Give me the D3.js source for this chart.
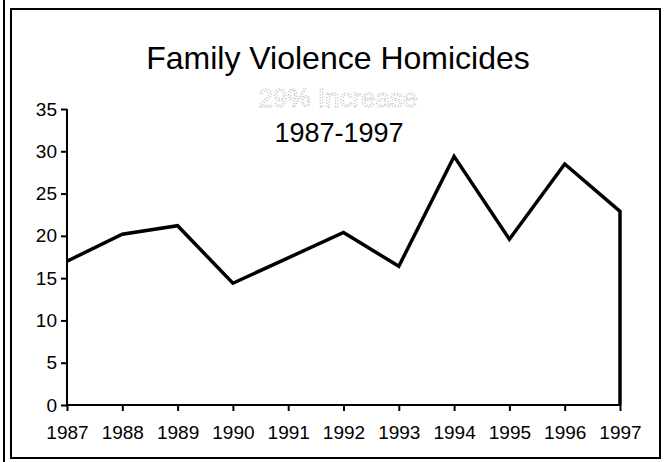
<html>
<head>
  <script src="https://d3js.org/d3.v7.min.js"></script>
  <style>
    body { margin: 0; background: white; }
    text { font-family: "Liberation Sans", Arial, sans-serif; }
  </style>
</head>
<body>
  <svg id="chart" width="667" height="462"></svg>
  <script>
    // data
    const years = [1987, 1988, 1989, 1990, 1991, 1992, 1993, 1994, 1995, 1996, 1997];
    const homicides = [17.0, 20.2, 21.2, 14.4, 17.4, 20.4, 16.4, 29.4, 19.6, 28.5, 22.9];
    const yTicks = [0, 5, 10, 15, 20, 25, 30, 35];
    const titleLines = ["Family Violence Homicides", "29% Increase", "1987-1997"];

    const svg = d3.select("svg#chart");
    const margin = { top: 109, right: 47, bottom: 57, left: 67 };
    const width = +svg.attr("width");
    const height = +svg.attr("height");
    const chartWidth = width - margin.left - margin.right;
    const chartHeight = height - margin.top - margin.bottom;

    // frame: outer left rule plus the boxed panel
    svg.append("line")
      .attr("x1", 4).attr("x2", 4).attr("y1", 0).attr("y2", height)
      .attr("stroke", "black").attr("stroke-width", 2);
    svg.append("rect")
      .attr("x", 11).attr("y", 9).attr("width", 649).attr("height", 449)
      .attr("fill", "none").attr("stroke", "black").attr("stroke-width", 2);

    // titles
    svg.append("text").attr("x", 338).attr("y", 69)
      .attr("text-anchor", "middle").style("font-size", "32px")
      .text(titleLines[0]);
    svg.append("text").attr("x", 338).attr("y", 107)
      .attr("text-anchor", "middle").style("font-size", "26px")
      .attr("fill", "white").attr("stroke", "#a8a8a8").attr("stroke-width", 0.8)
      .attr("stroke-dasharray", "1.2,1.6")
      .text(titleLines[1]);
    svg.append("text").attr("x", 339).attr("y", 142)
      .attr("text-anchor", "middle").style("font-size", "27px")
      .text(titleLines[2]);

    const chartArea = svg.append("g")
      .attr("transform", `translate(${margin.left},${margin.top})`);

    const xScale = d3.scaleLinear().domain(d3.extent(years)).range([0, chartWidth]);
    const yScale = d3.scaleLinear().domain([0, 35]).range([chartHeight, 0]);

    const leftAxis = d3.axisLeft(yScale).tickValues(yTicks).tickSize(6).tickPadding(4);
    const yAxis = chartArea.append("g").call(leftAxis);

    const bottomAxis = d3.axisBottom(xScale).tickValues(years)
      .tickFormat(d3.format("d")).tickSize(6).tickPadding(15);
    const xAxis = chartArea.append("g")
      .attr("transform", `translate(0,${chartHeight})`)
      .call(bottomAxis);

    [xAxis, yAxis].forEach(ax => {
      ax.selectAll(".tick line").attr("stroke-width", 2);
      ax.selectAll(".tick text").attr("fill", "black")
        .style("font-size", "19px")
        .style("font-family", "'Liberation Sans', Arial, sans-serif");
    });
    // plain domain lines without end caps
    yAxis.select(".domain").attr("stroke-width", 2).attr("d", `M0,${chartHeight}V0`);
    xAxis.select(".domain").attr("stroke-width", 2).attr("d", `M0,0H${chartWidth}`);

    // series outline, closed down to the baseline at the last year
    const pts = years.map((y, i) => [xScale(y), yScale(homicides[i])]);
    pts.push([xScale(years[years.length - 1]), yScale(0)]);
    chartArea.append("path")
      .attr("d", d3.line()(pts))
      .attr("fill", "none")
      .attr("stroke", "black")
      .attr("stroke-width", 3.5)
      .attr("stroke-linejoin", "miter");
  </script>
</body>
</html>
